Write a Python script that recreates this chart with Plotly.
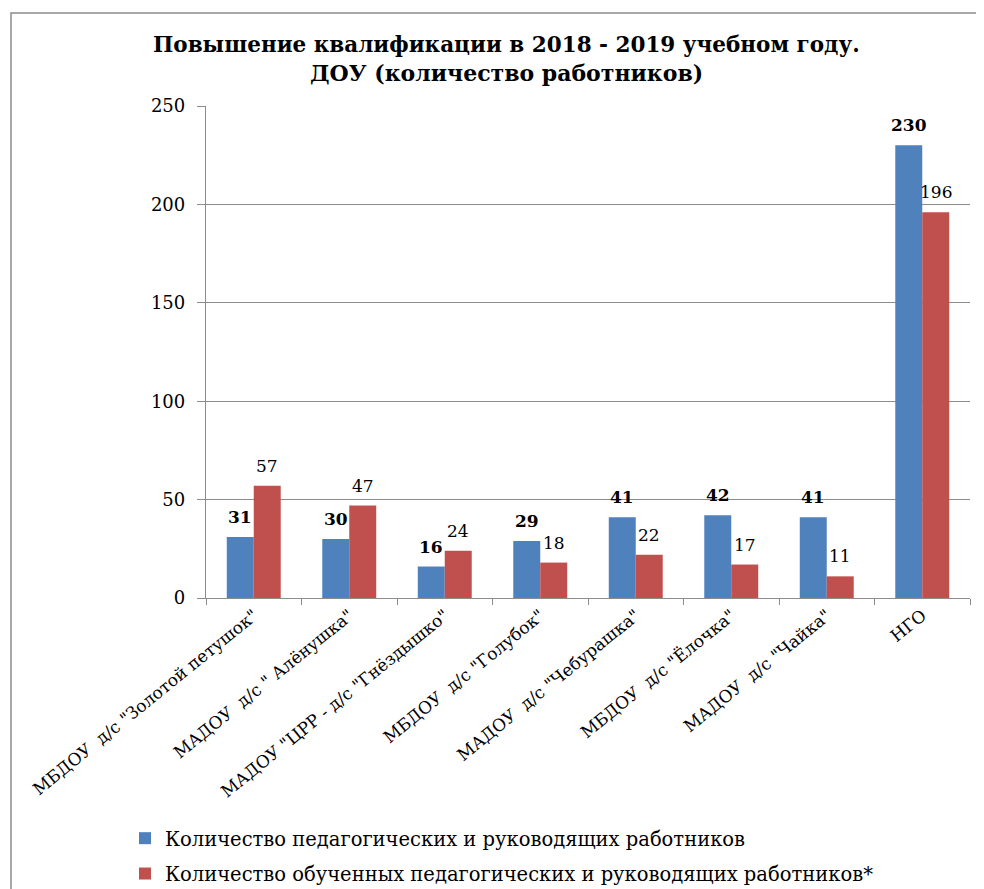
import plotly.graph_objects as go

categories = [
    'МБДОУ  д/с "Золотой петушок"',
    'МАДОУ  д/с " Алёнушка"',
    'МАДОУ "ЦРР - д/с "Гнёздышко"',
    'МБДОУ  д/с "Голубок"',
    'МАДОУ  д/с "Чебурашка"',
    'МБДОУ  д/с "Ёлочка"',
    'МАДОУ  д/с "Чайка"',
    'НГО',
]
staff_total = [31, 30, 16, 29, 41, 42, 41, 230]
staff_trained = [57, 47, 24, 18, 22, 17, 11, 196]
series_names = [
    "Количество педагогических и руководящих работников",
    "Количество обученных педагогических и руководящих работников*",
]
y_ticks = [0, 50, 100, 150, 200, 250]

BLUE = "#4F81BD"
RED = "#C0504D"
GRID = "#8C8C8C"
FONT = "DejaVu Serif"

# page-pixel helpers for the plot area (x 206..970, y 106..598 in the page)
def px_x(p):
    return (p - 206) / 764

def px_y(p):
    return (598 - p) / 492

fig = go.Figure()
fig.add_trace(go.Bar(x=categories, y=staff_total, name=series_names[0], legendgroup="a",
                     marker=dict(color=BLUE, line=dict(width=0))))
fig.add_trace(go.Bar(x=categories, y=staff_trained, name=series_names[1], legendgroup="b",
                     marker=dict(color=RED, line=dict(width=0))))

annotations = []
for c, v in zip(categories, staff_total):
    annotations.append(dict(x=c, y=v, xref="x", yref="y", text=f"<b>{v}</b>",
                            showarrow=False, xshift=-13.5, yshift=8, yanchor="bottom",
                            font=dict(family=FONT, size=17, color="black")))
for c, v in zip(categories, staff_trained):
    annotations.append(dict(x=c, y=v, xref="x", yref="y", text=str(v),
                            showarrow=False, xshift=13.5, yshift=8, yanchor="bottom",
                            font=dict(family=FONT, size=17, color="black")))

annotations.append(dict(xref="paper", yref="paper", x=px_x(506), y=px_y(45),
                        text="<b>Повышение квалификации в 2018 - 2019 учебном году.</b>",
                        showarrow=False, xanchor="center", yanchor="middle",
                        font=dict(family=FONT, size=21.5, color="black")))
annotations.append(dict(xref="paper", yref="paper", x=px_x(506), y=px_y(73),
                        text="<b>ДОУ (количество работников)</b>",
                        showarrow=False, xanchor="center", yanchor="middle",
                        font=dict(family=FONT, size=22, color="black")))

fig.update_layout(
    width=976, height=921,
    margin=dict(l=198, r=14, t=98, b=331, autoexpand=False),
    paper_bgcolor="white", plot_bgcolor="white",
    barmode="group", bargap=0.435, bargroupgap=0,
    font=dict(family=FONT, size=17, color="black"),
    showlegend=True,
    legend=dict(x=px_x(125), y=px_y(819), xanchor="left", yanchor="top",
                orientation="v", traceorder="grouped", tracegroupgap=7,
                font=dict(family=FONT, size=19.5, color="black"),
                bgcolor="rgba(0,0,0,0)"),
    annotations=annotations,
    shapes=[dict(type="rect", xref="paper", yref="paper",
                 x0=px_x(11), x1=1.2, y0=-1.0, y1=px_y(13),
                 line=dict(color="#8C8C8C", width=1.5), fillcolor="rgba(0,0,0,0)", layer="below")],
)
fig.update_xaxes(type="category", showline=True, linecolor=GRID, linewidth=1.3,
                 ticks="outside", tickson="boundaries", ticklen=6, tickcolor=GRID,
                 tickangle=-39, showgrid=False, automargin=False,
                 tickfont=dict(family=FONT, size=17, color="black"))
fig.update_yaxes(range=[0, 250], tickvals=y_ticks, showline=True, linecolor=GRID, linewidth=1.3,
                 ticks="outside", ticklen=8, tickcolor=GRID, ticklabelstandoff=8,
                 showgrid=True, gridcolor=GRID, gridwidth=1.3, zeroline=False, automargin=False,
                 tickfont=dict(family=FONT, size=18, color="black"))

fig.write_html("out.html")
